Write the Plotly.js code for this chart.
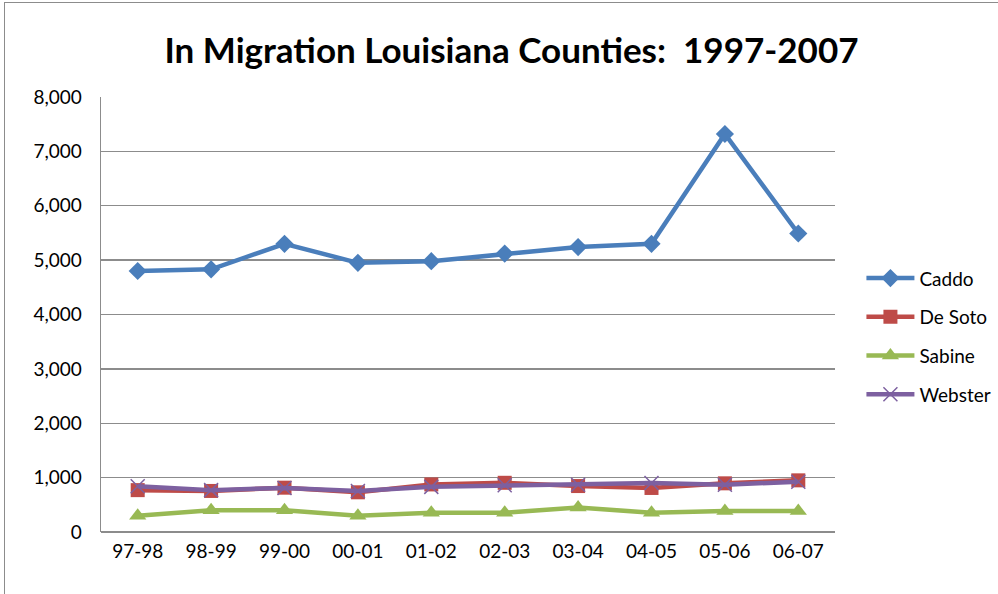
<!DOCTYPE html>
<html><head><meta charset="utf-8">
<script src="https://cdn.plot.ly/plotly-3.0.1.min.js"></script>
<style>
html,body{margin:0;padding:0;background:#fff;overflow:hidden;}
#frame{position:absolute;left:4px;top:2px;width:1100px;height:700px;border:1px solid #8c8c8c;}
#chart{position:absolute;left:0;top:0;width:998px;height:594px;}
</style></head>
<body><div id="frame"></div><div id="chart"></div>
<script>
const periods = ["97-98","98-99","99-00","00-01","01-02","02-03","03-04","04-05","05-06","06-07"];
const caddo   = [4800, 4830, 5300, 4950, 4980, 5120, 5240, 5300, 7320, 5490];
const desoto  = [770, 755, 815, 730, 875, 905, 845, 810, 895, 950];
const sabine  = [300, 400, 400, 300, 355, 355, 450, 355, 385, 385];
const webster = [840, 770, 810, 755, 830, 860, 870, 900, 870, 925];
const names = ["Caddo","De Soto","Sabine","Webster"];
const colors = ["#4a7ebb","#be4b48","#98b954","#7d60a0"];
const symbols = ["diamond","square","triangle-up","x-thin"];
const sizes = [14, 14, 15, 14];
const series = [caddo, desoto, sabine, webster];

const traces = series.map((vals, i) => ({
  x: periods, y: vals, name: names[i], legendgroup: "g" + i, type: "scatter", mode: "lines+markers",
  line: {color: colors[i], width: 4.5},
  marker: {symbol: symbols[i], size: sizes[i], color: colors[i],
           line: {color: colors[i], width: i === 3 ? 1.5 : 0}}
}));
const font = "Lato, 'Open Sans', sans-serif";
const layout = {
  width: 998, height: 594,
  margin: {l: 101, r: 163, t: 97, b: 62, autoexpand: false},
  paper_bgcolor: "rgba(0,0,0,0)", plot_bgcolor: "rgba(0,0,0,0)",
  title: {text: "<b>In Migration Louisiana Counties:  1997-2007</b>",
          font: {family: font, size: 35, color: "#000"},
          x: 0.5125, xanchor: "center", y: 0.915, yanchor: "middle"},
  xaxis: {type: "category", range: [-0.5, periods.length - 0.5], showgrid: false, zeroline: false, showline: false,
          ticks: "", tickfont: {family: font, size: 19, color: "#000"}, ticklabelstandoff: 6},
  yaxis: {range: [0, 8000], dtick: 1000, tickformat: ",d", showgrid: true,
          gridcolor: "#8c8c8c", gridwidth: 1.3, zeroline: true, zerolinecolor: "#8c8c8c", zerolinewidth: 1.3,
          showline: true, linecolor: "#8c8c8c", linewidth: 1.3, ticks: "",
          tickfont: {family: font, size: 19, color: "#000"}, ticklabelstandoff: 14},
  legend: {x: 1.036, xanchor: "left", y: 0.45, yanchor: "middle", itemwidth: 48,
           font: {family: font, size: 19, color: "#000"}, tracegroupgap: 11, bgcolor: "rgba(0,0,0,0)"},
  showlegend: true
};
Plotly.newPlot("chart", traces, layout, {displayModeBar: false, staticPlot: true});
</script></body></html>
